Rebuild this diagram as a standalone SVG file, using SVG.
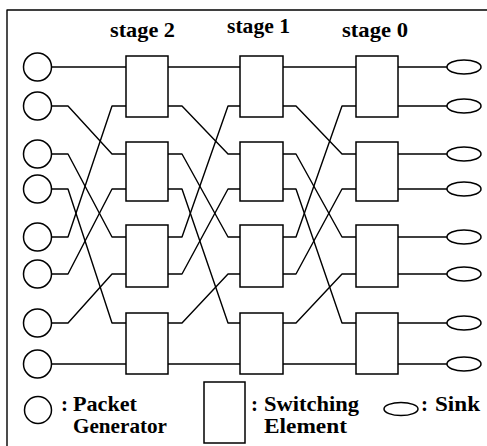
<svg xmlns="http://www.w3.org/2000/svg" width="487" height="446" viewBox="0 0 487 446">
  <style>
    .ln { fill: none; stroke: #000; stroke-width: 1.4; stroke-linejoin: round; }
    .nd { fill: #fff; stroke: #000; stroke-width: 1.5; }
    .tx { font-weight: bold; fill: #000; font-size: 21px; }
  </style>
  <rect x="0" y="0" width="487" height="446" fill="#fff"/>

  <!-- frame -->
  <path class="ln" d="M7 446 V10 H487"/>

  <g font-family="Liberation Serif, Times New Roman, serif">
  <!-- stage titles -->
  <text class="tx" x="110" y="37" textLength="65" lengthAdjust="spacingAndGlyphs">stage 2</text>
  <text class="tx" x="227" y="33" textLength="63" lengthAdjust="spacingAndGlyphs">stage 1</text>
  <text class="tx" x="342" y="37" textLength="66" lengthAdjust="spacingAndGlyphs">stage 0</text>
  </g>

  <!-- perfect-shuffle wiring: i -> 2i mod 7, 7 -> 7 -->
  <g id="connectors">
    <!-- generators to stage 2 -->
    <path class="ln" d="M51.5 67 H126"/>
    <path class="ln" d="M51.5 106 H68 L112 154 H126"/>
    <path class="ln" d="M51.5 154 H68 L112 237 H126"/>
    <path class="ln" d="M51.5 189 H68 L112 323 H126"/>
    <path class="ln" d="M51.5 237 H68 L112 106 H126"/>
    <path class="ln" d="M51.5 274 H68 L112 189 H126"/>
    <path class="ln" d="M51.5 323 H68 L112 274 H126"/>
    <path class="ln" d="M51.5 364 H126"/>
    <!-- stage 2 to stage 1 -->
    <path class="ln" d="M168 67 H240"/>
    <path class="ln" d="M168 106 H182 L228 154 H240"/>
    <path class="ln" d="M168 154 H182 L228 237 H240"/>
    <path class="ln" d="M168 189 H182 L228 323 H240"/>
    <path class="ln" d="M168 237 H182 L228 106 H240"/>
    <path class="ln" d="M168 274 H182 L228 189 H240"/>
    <path class="ln" d="M168 323 H182 L228 274 H240"/>
    <path class="ln" d="M168 364 H240"/>
    <!-- stage 1 to stage 0 -->
    <path class="ln" d="M283 67 H356"/>
    <path class="ln" d="M283 106 H296 L342 154 H356"/>
    <path class="ln" d="M283 154 H296 L342 237 H356"/>
    <path class="ln" d="M283 189 H296 L342 323 H356"/>
    <path class="ln" d="M283 237 H296 L342 106 H356"/>
    <path class="ln" d="M283 274 H296 L342 189 H356"/>
    <path class="ln" d="M283 323 H296 L342 274 H356"/>
    <path class="ln" d="M283 364 H356"/>
    <!-- stage 0 to sinks -->
    <path class="ln" d="M398 67 H447 M398 106 H447 M398 154 H447 M398 189 H447 M398 237 H447 M398 274 H447 M398 323 H447 M398 364 H447"/>
  </g>

  <!-- packet generators -->
  <g id="gen0"><circle class="nd" cx="37.5" cy="67" r="14"/></g>
  <g id="gen1"><circle class="nd" cx="37.5" cy="106" r="14"/></g>
  <g id="gen2"><circle class="nd" cx="37.5" cy="154" r="14"/></g>
  <g id="gen3"><circle class="nd" cx="37.5" cy="189" r="14"/></g>
  <g id="gen4"><circle class="nd" cx="37.5" cy="237" r="14"/></g>
  <g id="gen5"><circle class="nd" cx="37.5" cy="274" r="14"/></g>
  <g id="gen6"><circle class="nd" cx="37.5" cy="323" r="14"/></g>
  <g id="gen7"><circle class="nd" cx="37.5" cy="364" r="14"/></g>

  <!-- stage 2 switching elements -->
  <g id="s2e0"><rect class="nd" x="126" y="56" width="42" height="61"/></g>
  <g id="s2e1"><rect class="nd" x="126" y="142" width="42" height="59"/></g>
  <g id="s2e2"><rect class="nd" x="126" y="225" width="42" height="62"/></g>
  <g id="s2e3"><rect class="nd" x="126" y="313" width="42" height="61"/></g>
  <!-- stage 1 switching elements -->
  <g id="s1e0"><rect class="nd" x="240" y="56" width="43" height="61"/></g>
  <g id="s1e1"><rect class="nd" x="240" y="142" width="43" height="59"/></g>
  <g id="s1e2"><rect class="nd" x="240" y="225" width="43" height="62"/></g>
  <g id="s1e3"><rect class="nd" x="240" y="313" width="43" height="61"/></g>
  <!-- stage 0 switching elements -->
  <g id="s0e0"><rect class="nd" x="356" y="56" width="42" height="61"/></g>
  <g id="s0e1"><rect class="nd" x="356" y="142" width="42" height="59"/></g>
  <g id="s0e2"><rect class="nd" x="356" y="225" width="42" height="62"/></g>
  <g id="s0e3"><rect class="nd" x="356" y="313" width="42" height="61"/></g>

  <!-- sinks -->
  <g id="sink0"><ellipse class="nd" cx="464" cy="67" rx="17" ry="7"/></g>
  <g id="sink1"><ellipse class="nd" cx="464" cy="106" rx="17" ry="7"/></g>
  <g id="sink2"><ellipse class="nd" cx="464" cy="154" rx="17" ry="7"/></g>
  <g id="sink3"><ellipse class="nd" cx="464" cy="189" rx="17" ry="7"/></g>
  <g id="sink4"><ellipse class="nd" cx="464" cy="237" rx="17" ry="7"/></g>
  <g id="sink5"><ellipse class="nd" cx="464" cy="274" rx="17" ry="7"/></g>
  <g id="sink6"><ellipse class="nd" cx="464" cy="323" rx="17" ry="7"/></g>
  <g id="sink7"><ellipse class="nd" cx="464" cy="364" rx="17" ry="7"/></g>

  <!-- legend -->
  <g id="legend-generator" font-family="Liberation Serif, Times New Roman, serif">
    <circle class="nd" cx="38" cy="410" r="13.5"/>
    <text class="tx" x="61" y="411">:</text>
    <text class="tx" x="73" y="411" textLength="64" lengthAdjust="spacingAndGlyphs">Packet</text>
    <text class="tx" x="73" y="433" textLength="94" lengthAdjust="spacingAndGlyphs">Generator</text>
  </g>
  <g id="legend-switch" font-family="Liberation Serif, Times New Roman, serif">
    <rect class="nd" x="204" y="382" width="41" height="61"/>
    <text class="tx" x="251" y="411">:</text>
    <text class="tx" x="264" y="411" textLength="95" lengthAdjust="spacingAndGlyphs">Switching</text>
    <text class="tx" x="264" y="433" textLength="83" lengthAdjust="spacingAndGlyphs">Element</text>
  </g>
  <g id="legend-sink" font-family="Liberation Serif, Times New Roman, serif">
    <ellipse class="nd" cx="401" cy="409" rx="17" ry="6.5"/>
    <text class="tx" x="421" y="411">:</text>
    <text class="tx" x="435" y="411" textLength="45" lengthAdjust="spacingAndGlyphs">Sink</text>
  </g>
</svg>
